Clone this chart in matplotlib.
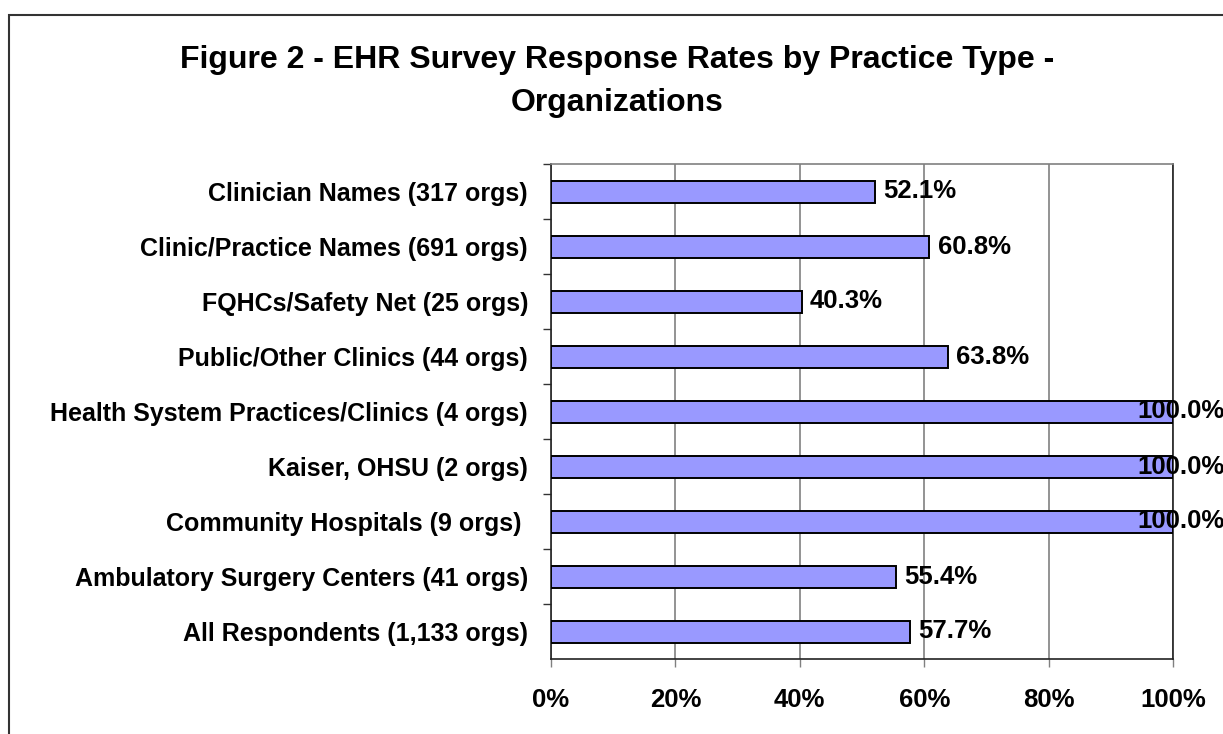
import matplotlib
matplotlib.use('Agg')

import matplotlib.pyplot as plt
from matplotlib.patches import Rectangle
from matplotlib.ticker import FuncFormatter

plt.rcParams['font.family'] = ['Liberation Sans', 'DejaVu Sans']
plt.rcParams['font.weight'] = 'bold'

categories = ['Clinician Names (317 orgs)',
              'Clinic/Practice Names (691 orgs)',
              'FQHCs/Safety Net (25 orgs)',
              'Public/Other Clinics (44 orgs)',
              'Health System Practices/Clinics (4 orgs)',
              'Kaiser, OHSU (2 orgs)',
              'Community Hospitals (9 orgs) ',
              'Ambulatory Surgery Centers (41 orgs)',
              'All Respondents (1,133 orgs)']
rates = [52.1, 60.8, 40.3, 63.8, 100.0, 100.0, 100.0, 55.4, 57.7]
xticks = [0, 20, 40, 60, 80, 100]
title_lines = ['Figure 2 - EHR Survey Response Rates by Practice Type -', 'Organizations']

W, H = 1223, 734
fig = plt.figure(figsize=(W / 100, H / 100), dpi=100)
ax = fig.add_axes([551 / W, 1 - 659 / H, 622 / W, 495 / H])

# outer chart frame (runs off the right/bottom edges)
fig.patches.append(Rectangle((9 / W, -0.1), 1.2, 1 - 15 / H + 0.1,
                             transform=fig.transFigure, fill=False,
                             edgecolor='#333333', linewidth=1.5))

ypos = list(range(len(categories)))
ax.barh(ypos, rates, height=0.4, color='#9999FF', edgecolor='black', linewidth=1.4, zorder=3)

ax.set_xlim(0, 100)
ax.set_ylim(len(categories) - 0.5, -0.5)
ax.set_xticks(xticks)
ax.xaxis.set_major_formatter(FuncFormatter(lambda v, p: '%d%%' % v))
ax.grid(axis='x', color='#808080', linewidth=1.2, zorder=0)

ax.set_yticks(ypos)
ax.set_yticklabels(categories)
ax.set_yticks([y + 0.5 for y in ypos[:-1]] + [-0.5], minor=True)
ax.tick_params(axis='y', which='major', length=0, pad=16.5, labelsize=18)
ax.tick_params(axis='y', which='minor', length=6, width=1, color='#333333')
ax.tick_params(axis='x', length=6, width=1, color='#808080', pad=15, labelsize=18.5)

for s in ['left', 'bottom', 'right']:
    ax.spines[s].set_color('#222222')
    ax.spines[s].set_linewidth(1.2)
ax.spines['top'].set_color('#808080')
ax.spines['top'].set_linewidth(1.2)

for y, v in zip(ypos, rates):
    if v >= 100:
        # Excel pulls labels that would overflow back inside the chart area
        ax.text(1137 / W, y, '%.1f%%' % v, transform=matplotlib.transforms.blended_transform_factory(fig.transFigure, ax.transData),
                ha='left', va='center', fontsize=18.5, zorder=4, clip_on=False)
    else:
        ax.annotate('%.1f%%' % v, (v, y), xytext=(6, 0), textcoords='offset points',
                    ha='left', va='center', fontsize=18.5, zorder=4)

fig.text(617 / W, 1 - 68 / H, title_lines[0], ha='center', va='baseline', fontsize=23)
fig.text(617 / W, 1 - 111 / H, title_lines[1], ha='center', va='baseline', fontsize=23)

fig.savefig('out.png', dpi=100)
